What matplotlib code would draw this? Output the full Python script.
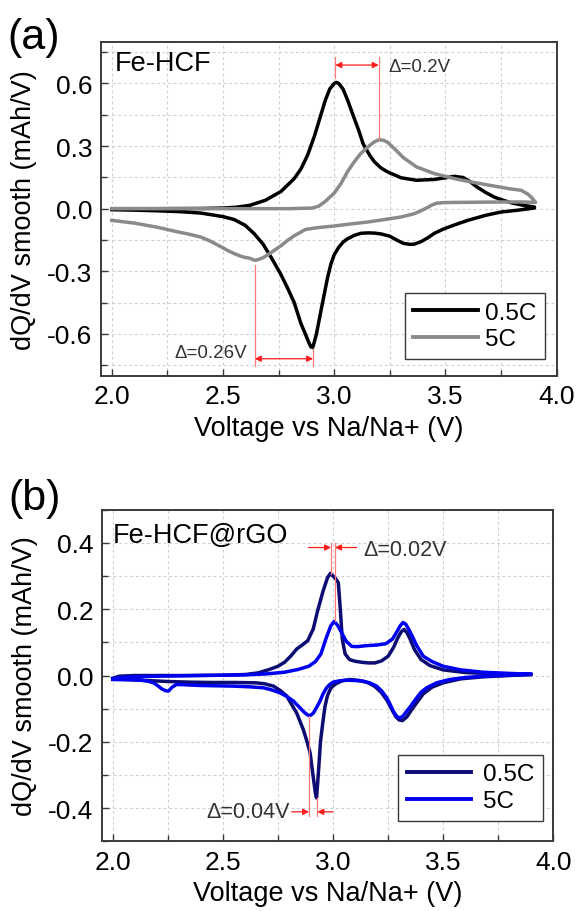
import matplotlib
matplotlib.use("Agg")
import matplotlib.pyplot as plt
from matplotlib.ticker import MultipleLocator, FormatStrFormatter
import numpy as np

plt.rcParams["font.family"] = ["Liberation Sans", "DejaVu Sans"]
plt.rcParams["axes.unicode_minus"] = False

# -- colours ------------------------------------------------------------------
BLACK = "#000000"
GREY = "#8a8a8a"
NAVY = "#0c0c72"
BLUE = "#0000f0"
RED_LINE = "#ff7a7a"
RED_HEAD = "#ff1a1a"
FRAME = "#3a3a3a"
GRID = "#cfcfcf"
NOTE = "#333333"

# -- (a) Fe-HCF, 0.5C (charge / discharge branches) ---------------------------
a_05c_chg_v = [2.00, 2.20, 2.40, 2.50, 2.56, 2.62, 2.69, 2.76, 2.82, 2.85, 2.88, 2.91,
               2.94, 2.96, 2.98, 3.00, 3.01, 3.02, 3.04, 3.06, 3.09, 3.11, 3.13, 3.16,
               3.18, 3.21, 3.24, 3.30, 3.37, 3.45, 3.50, 3.54, 3.58, 3.61, 3.64, 3.68,
               3.72, 3.76, 3.80, 3.85, 3.90]
a_05c_chg_q = [0.000, 0.000, 0.001, 0.003, 0.007, 0.016, 0.040, 0.082, 0.144, 0.190, 0.256, 0.345,
               0.450, 0.520, 0.574, 0.600, 0.605, 0.600, 0.572, 0.520, 0.432, 0.375, 0.310, 0.255,
               0.225, 0.195, 0.176, 0.148, 0.136, 0.140, 0.148, 0.155, 0.149, 0.130, 0.105, 0.078,
               0.055, 0.040, 0.027, 0.016, 0.008]
a_05c_dis_v = [3.90, 3.82, 3.75, 3.68, 3.60, 3.54, 3.49, 3.45, 3.42, 3.39, 3.36, 3.34, 3.31,
               3.28, 3.25, 3.21, 3.18, 3.15, 3.12, 3.09, 3.06, 3.04, 3.02, 3.00, 2.985, 2.97,
               2.955, 2.94, 2.93, 2.92, 2.91, 2.903, 2.895, 2.885, 2.87, 2.85, 2.82, 2.79,
               2.76, 2.72, 2.68, 2.64, 2.60, 2.55, 2.50, 2.40, 2.30, 2.20, 2.10, 2.00]
a_05c_dis_q = [0.003, -0.008, -0.016, -0.032, -0.056, -0.078, -0.098, -0.118, -0.140, -0.158, -0.170, -0.171, -0.166,
               -0.150, -0.132, -0.121, -0.117, -0.116, -0.118, -0.128, -0.144, -0.160, -0.185, -0.220, -0.265, -0.330,
               -0.410, -0.490, -0.545, -0.600, -0.640, -0.665, -0.662, -0.640, -0.600, -0.550, -0.450, -0.380,
               -0.315, -0.240, -0.170, -0.120, -0.080, -0.052, -0.038, -0.021, -0.014, -0.010, -0.007, -0.005]

# -- (a) Fe-HCF, 5C -----------------------------------------------------------
a_5c_chg_v = [2.00, 2.20, 2.40, 2.60, 2.80, 2.90, 2.93, 2.96, 3.00, 3.03, 3.06, 3.09, 3.12,
              3.15, 3.18, 3.20, 3.22, 3.24, 3.27, 3.31, 3.37, 3.45, 3.54, 3.63, 3.72, 3.79,
              3.84, 3.87, 3.89, 3.905]
a_5c_chg_q = [0.000, 0.000, 0.000, 0.000, 0.000, 0.003, 0.012, 0.035, 0.075, 0.120, 0.178, 0.225, 0.265,
              0.295, 0.320, 0.330, 0.328, 0.318, 0.288, 0.245, 0.200, 0.168, 0.144, 0.125, 0.108, 0.095,
              0.088, 0.070, 0.050, 0.030]
a_5c_dis_v = [3.905, 3.85, 3.75, 3.65, 3.55, 3.49, 3.46, 3.44, 3.42, 3.39, 3.36, 3.30, 3.22, 3.15,
              3.06, 3.00, 2.95, 2.91, 2.87, 2.85, 2.82, 2.79, 2.76, 2.73, 2.70, 2.68, 2.66,
              2.645, 2.63, 2.615, 2.60, 2.58, 2.55, 2.52, 2.49, 2.44, 2.40, 2.35, 2.30, 2.20, 2.10, 2.00]
a_5c_dis_q = [0.030, 0.032, 0.032, 0.031, 0.030, 0.029, 0.026, 0.018, 0.006, -0.010, -0.024, -0.040, -0.053, -0.064,
              -0.075, -0.083, -0.088, -0.093, -0.100, -0.112, -0.130, -0.152, -0.178, -0.200, -0.222, -0.235, -0.243,
              -0.248, -0.242, -0.236, -0.234, -0.228, -0.215, -0.200, -0.182, -0.154, -0.136, -0.123, -0.112, -0.088, -0.069, -0.056]

# -- (b) Fe-HCF@rGO, 0.5C -----------------------------------------------------
b_05c_chg_v = [2.00, 2.03, 2.10, 2.30, 2.50, 2.60, 2.66, 2.71, 2.75, 2.78, 2.81, 2.835, 2.86,
               2.885, 2.91, 2.93, 2.955, 2.975, 2.988, 3.00, 3.012, 3.024, 3.033, 3.042, 3.055,
               3.075, 3.10, 3.13, 3.16, 3.19, 3.22, 3.25, 3.275, 3.295, 3.31, 3.322, 3.335,
               3.35, 3.37, 3.40, 3.44, 3.50, 3.60, 3.70, 3.80, 3.90]
b_05c_chg_q = [-0.008, -0.002, 0.000, 0.000, 0.001, 0.003, 0.008, 0.018, 0.028, 0.040, 0.060, 0.080, 0.092,
               0.105, 0.140, 0.195, 0.255, 0.295, 0.308, 0.300, 0.292, 0.280, 0.200, 0.110, 0.065,
               0.048, 0.043, 0.040, 0.038, 0.038, 0.044, 0.058, 0.085, 0.115, 0.132, 0.139, 0.130,
               0.110, 0.078, 0.048, 0.030, 0.017, 0.009, 0.006, 0.004, 0.003]
b_05c_dis_v = [3.90, 3.80, 3.68, 3.58, 3.50, 3.45, 3.41, 3.38, 3.355, 3.335, 3.315, 3.30, 3.285,
               3.265, 3.245, 3.22, 3.19, 3.16, 3.12, 3.08, 3.04, 3.01, 2.99, 2.975, 2.963, 2.953,
               2.943, 2.935, 2.928, 2.925, 2.92, 2.912, 2.905, 2.896, 2.88, 2.865, 2.85, 2.835,
               2.81, 2.79, 2.76, 2.73, 2.69, 2.65, 2.55, 2.45, 2.35, 2.25, 2.15, 2.08, 2.00]
b_05c_dis_q = [0.003, 0.000, -0.004, -0.010, -0.022, -0.035, -0.055, -0.082, -0.105, -0.125, -0.136, -0.134, -0.124,
               -0.100, -0.075, -0.052, -0.033, -0.022, -0.015, -0.012, -0.016, -0.026, -0.038, -0.060, -0.095, -0.145,
               -0.200, -0.280, -0.345, -0.369, -0.355, -0.315, -0.280, -0.233, -0.195, -0.163, -0.138, -0.113,
               -0.085, -0.062, -0.045, -0.032, -0.025, -0.022, -0.021, -0.021, -0.020, -0.018, -0.015, -0.012, -0.010]

# -- (b) Fe-HCF@rGO, 5C -------------------------------------------------------
b_5c_chg_v = [2.00, 2.05, 2.20, 2.40, 2.60, 2.70, 2.78, 2.84, 2.89, 2.92, 2.945, 2.97, 2.99,
              3.005, 3.02, 3.04, 3.06, 3.085, 3.11, 3.15, 3.20, 3.24, 3.27, 3.29, 3.305, 3.318,
              3.33, 3.345, 3.36, 3.38, 3.41, 3.45, 3.50, 3.58, 3.68, 3.78, 3.85, 3.90]
b_5c_chg_q = [-0.010, -0.005, -0.002, 0.000, 0.002, 0.005, 0.010, 0.018, 0.028, 0.042, 0.065, 0.115, 0.150,
              0.163, 0.152, 0.128, 0.103, 0.088, 0.087, 0.090, 0.092, 0.096, 0.110, 0.132, 0.150, 0.160,
              0.155, 0.138, 0.118, 0.090, 0.058, 0.042, 0.028, 0.017, 0.010, 0.007, 0.005, 0.005]
b_5c_dis_v = [3.90, 3.80, 3.68, 3.60, 3.53, 3.47, 3.425, 3.40, 3.38, 3.355, 3.334, 3.318, 3.304,
              3.29, 3.274, 3.26, 3.244, 3.22, 3.198, 3.17, 3.138, 3.10, 3.062, 3.03, 3.00, 2.985,
              2.971, 2.955, 2.941, 2.925, 2.911, 2.90, 2.893, 2.885, 2.875, 2.865, 2.845, 2.82,
              2.79, 2.759, 2.72, 2.684, 2.62, 2.548, 2.47, 2.396, 2.33, 2.29, 2.27, 2.253, 2.24,
              2.222, 2.205, 2.185, 2.16, 2.124, 2.07, 2.00]
b_5c_dis_q = [0.004, 0.001, -0.002, -0.006, -0.012, -0.022, -0.037, -0.050, -0.067, -0.090, -0.108, -0.122, -0.128,
              -0.124, -0.108, -0.088, -0.067, -0.046, -0.032, -0.023, -0.017, -0.015, -0.014, -0.016, -0.020, -0.027,
              -0.037, -0.055, -0.077, -0.097, -0.113, -0.119, -0.121, -0.119, -0.114, -0.108, -0.094, -0.077,
              -0.063, -0.052, -0.043, -0.037, -0.034, -0.032, -0.031, -0.030, -0.028, -0.027, -0.035, -0.047, -0.046,
              -0.040, -0.031, -0.022, -0.017, -0.014, -0.013, -0.012]

rate_labels = ["0.5C", "5C"]
x_ticks = [2.0, 2.5, 3.0, 3.5, 4.0]


def loop(v_chg, q_chg, v_dis, q_dis):
    return np.r_[v_chg, v_dis], np.r_[q_chg, q_dis]


def style_axes(ax, ylim, ymajor, yminor):
    ax.set_xlim(1.95, 4.0)
    ax.set_ylim(*ylim)
    ax.set_xticks(x_ticks)
    ax.xaxis.set_minor_locator(MultipleLocator(0.25))
    ax.yaxis.set_major_locator(MultipleLocator(ymajor))
    ax.yaxis.set_minor_locator(MultipleLocator(yminor))
    ax.xaxis.set_major_formatter(FormatStrFormatter("%.1f"))
    ax.yaxis.set_major_formatter(FormatStrFormatter("%.1f"))
    ax.tick_params(which="both", direction="in", top=False, right=False,
                   color=FRAME, width=1.0)
    ax.tick_params(which="major", length=5, labelsize=19, pad=6)
    ax.tick_params(which="minor", length=4)
    ax.grid(True, which="both", color=GRID, lw=0.8, linestyle=(0, (2.5, 2.5)))
    ax.set_axisbelow(True)
    for s in ax.spines.values():
        s.set_color(FRAME)
        s.set_linewidth(1.4)
    ax.set_xlabel("Voltage vs Na/Na+ (V)", fontsize=19.5)
    ax.set_ylabel("dQ/dV smooth (mAh/V)", fontsize=19.5)
    ax.xaxis.set_label_coords(0.5, -0.118)
    ax.yaxis.set_label_coords(-0.14, 0.5)


def vline(ax, x, y0, y1):
    ax.plot([x, x], [y0, y1], color=RED_LINE, lw=0.9, zorder=4)


def arrow(ax, x_from, x_to, y, style="-|>"):
    ax.annotate("", xy=(x_to, y), xytext=(x_from, y),
                arrowprops=dict(arrowstyle=style, color=RED_HEAD, lw=0.9,
                                mutation_scale=9, shrinkA=0, shrinkB=0),
                zorder=4)


fig = plt.figure(figsize=(5.76, 9.12), dpi=100)
fig.patch.set_facecolor("white")

# =============================================================================
# (a) Fe-HCF
# =============================================================================
ax1 = fig.add_axes([0.1748, 0.5870, 0.7917, 0.3662])
style_axes(ax1, (-0.8, 0.8), 0.3, 0.15)

v, q = loop(a_05c_chg_v, a_05c_chg_q, a_05c_dis_v, a_05c_dis_q)
ax1.plot(v, q, color=BLACK, lw=2.5, solid_joinstyle="round", label=rate_labels[0], zorder=3)
v, q = loop(a_5c_chg_v, a_5c_chg_q, a_5c_dis_v, a_5c_dis_q)
ax1.plot(v, q, color=GREY, lw=2.5, solid_joinstyle="round", label=rate_labels[1], zorder=3)

# peak shift annotations
vline(ax1, 3.005, 0.625, 0.728)
vline(ax1, 3.20, 0.336, 0.728)
arrow(ax1, 3.005, 3.20, 0.688, style="<|-|>")
ax1.text(3.245, 0.682, "\u0394=0.2V", fontsize=13.5, color=NOTE, ha="left", va="center")

vline(ax1, 2.643, -0.27, -0.752)
vline(ax1, 2.905, -0.672, -0.752)
arrow(ax1, 2.643, 2.905, -0.719, style="<|-|>")
ax1.text(2.608, -0.688, "\u0394=0.26V", fontsize=13.5, color=NOTE, ha="right", va="center")

ax1.text(2.015, 0.70, "Fe-HCF", fontsize=19.5, ha="left", va="center")

leg = ax1.legend(loc="lower right", bbox_to_anchor=(0.974, 0.05), borderaxespad=0,
                 fontsize=17.5, handlelength=2.65, handletextpad=0.3,
                 labelspacing=0.2, borderpad=0.35, fancybox=False, framealpha=1)
leg.get_frame().set_edgecolor(FRAME)
leg.get_frame().set_linewidth(1.0)
for h in leg.get_lines():
    h.set_linewidth(2.8)

fig.text(0.012, 0.958, "(a)", fontsize=31, ha="left", va="center")

# =============================================================================
# (b) Fe-HCF@rGO
# =============================================================================
ax2 = fig.add_axes([0.1766, 0.0764, 0.7840, 0.3636])
style_axes(ax2, (-0.5, 0.5), 0.2, 0.1)

v, q = loop(b_05c_chg_v, b_05c_chg_q, b_05c_dis_v, b_05c_dis_q)
ax2.plot(v, q, color=NAVY, lw=2.5, solid_joinstyle="round", label=rate_labels[0], zorder=3)
v, q = loop(b_5c_chg_v, b_5c_chg_q, b_5c_dis_v, b_5c_dis_q)
ax2.plot(v, q, color=BLUE, lw=2.5, solid_joinstyle="round", label=rate_labels[1], zorder=3)

vline(ax2, 2.991, 0.306, 0.40)
vline(ax2, 3.009, 0.165, 0.40)
arrow(ax2, 2.888, 2.991, 0.386)
arrow(ax2, 3.107, 3.009, 0.386)
ax2.text(3.138, 0.38, "\u0394=0.02V", fontsize=15.5, color=NOTE, ha="left", va="center")

vline(ax2, 2.891, -0.121, -0.424)
vline(ax2, 2.929, -0.369, -0.424)
arrow(ax2, 2.812, 2.891, -0.411)
arrow(ax2, 3.0, 2.929, -0.411)
ax2.text(2.805, -0.41, "\u0394=0.04V", fontsize=15.5, color=NOTE, ha="right", va="center")

ax2.text(1.998, 0.425, "Fe-HCF@rGO", fontsize=19.5, ha="left", va="center")

leg = ax2.legend(loc="lower right", bbox_to_anchor=(0.978, 0.062), borderaxespad=0,
                 fontsize=17.5, handlelength=2.65, handletextpad=0.5,
                 labelspacing=0.2, borderpad=0.35, fancybox=False, framealpha=1)
leg.get_frame().set_edgecolor(FRAME)
leg.get_frame().set_linewidth(1.0)
for h in leg.get_lines():
    h.set_linewidth(2.8)

fig.text(0.014, 0.453, "(b)", fontsize=31, ha="left", va="center")

fig.savefig("out.png", dpi=100, facecolor="white")
plt.close(fig)
print("Saved out.png")
